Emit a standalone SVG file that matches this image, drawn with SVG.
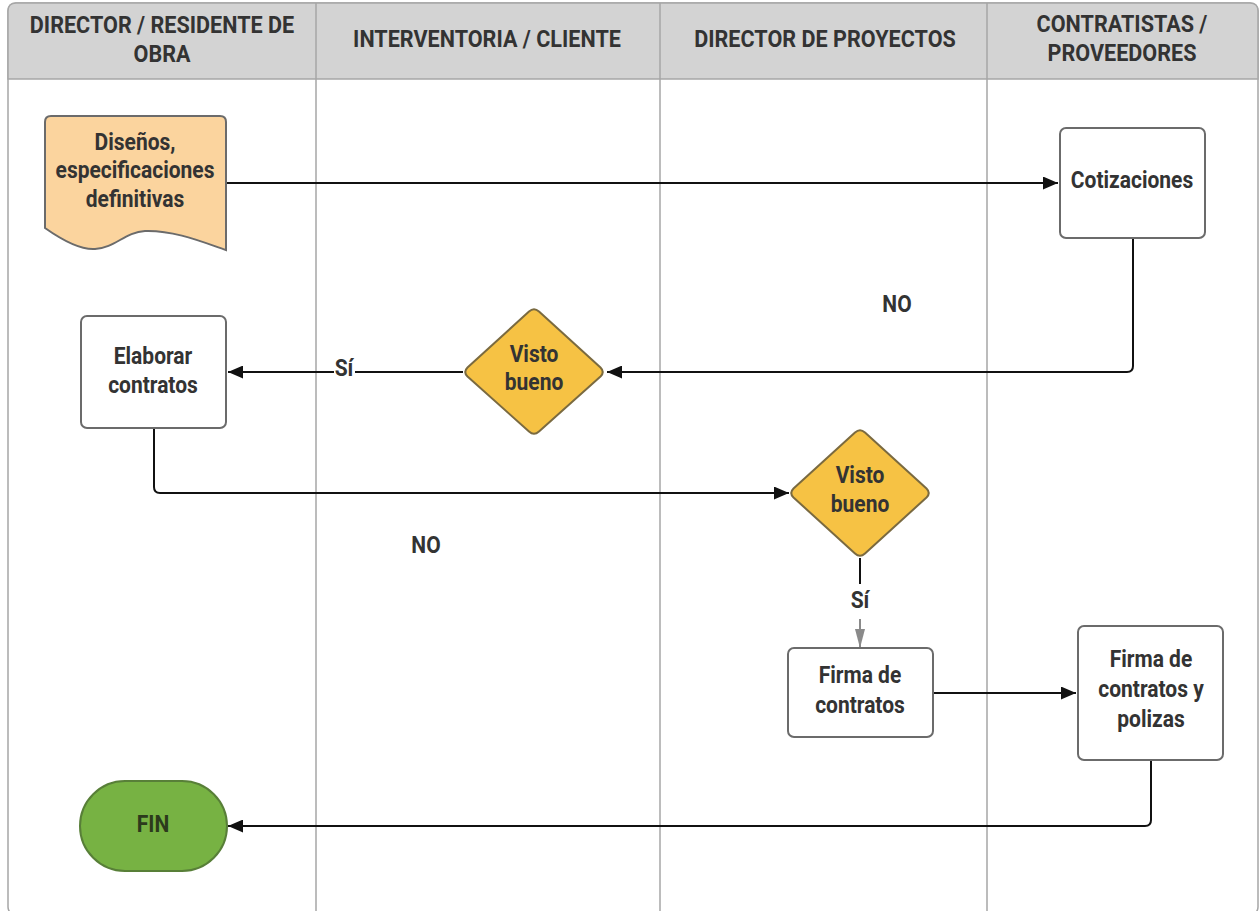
<svg xmlns="http://www.w3.org/2000/svg" width="1260" height="911" viewBox="0 0 1260 911">
  <defs>
    <style>
      .lane { fill: none; stroke: #a6a6a6; stroke-width: 1.5; }
      .hdr { fill: #d3d3d3; stroke: #a6a6a6; stroke-width: 1.5; }
      .box { fill: #ffffff; stroke: #6b6b6b; stroke-width: 2; }
      .doc { fill: #fbd49e; stroke: #6b6b6b; stroke-width: 2; }
      .dec { fill: #f6c244; stroke: #7a6a40; stroke-width: 2; stroke-linejoin: round; }
      .term { fill: #77b243; stroke: #587f38; stroke-width: 2; }
      .t { font-family: Roboto, "Liberation Sans", sans-serif; font-weight: bold; font-size: 21px; fill: #333333; text-anchor: middle; }
      .th { font-size: 21.6px; }
      .tf { fill: #2c3a1c; }
      .ln { fill: none; stroke: #111111; stroke-width: 2; stroke-linejoin: round; }
      .lg { fill: none; stroke: #8a8a8a; stroke-width: 2; }
    </style>
    <marker id="arr" markerUnits="userSpaceOnUse" markerWidth="15" markerHeight="13" refX="15" refY="6.5" orient="auto">
      <path d="M0,0 L15,6.5 L0,13 Z" fill="#111111"/>
    </marker>
    <marker id="arrg" markerUnits="userSpaceOnUse" markerWidth="19" markerHeight="10" refX="19" refY="5" orient="auto">
      <path d="M0,0 L19,5 L0,10 Z" fill="#8a8a8a"/>
    </marker>
  </defs>

  <!-- swimlane frame -->
  <g id="lanes">
    <rect x="8" y="3" width="1250" height="912" rx="8" fill="#ffffff" class="lane"/>
    <path class="hdr" d="M8,79 V11 Q8,3 16,3 H1250 Q1258,3 1258,11 V79 Z"/>
    <line class="lane" x1="316" y1="3" x2="316" y2="911"/>
    <line class="lane" x1="660" y1="3" x2="660" y2="911"/>
    <line class="lane" x1="987" y1="3" x2="987" y2="911"/>
    <text class="t th" transform="translate(162,33) scale(1,1.12)"><tspan x="0" y="0">DIRECTOR / RESIDENTE DE</tspan><tspan x="0" y="25.8">OBRA</tspan></text>
    <text class="t th" transform="translate(487,47) scale(1,1.12)">INTERVENTORIA / CLIENTE</text>
    <text class="t th" transform="translate(825,47) scale(1,1.12)">DIRECTOR DE PROYECTOS</text>
    <text class="t th" transform="translate(1122,32) scale(1,1.12)"><tspan x="0" y="0">CONTRATISTAS /</tspan><tspan x="0" y="25.8">PROVEEDORES</tspan></text>
  </g>

  <!-- connectors -->
  <g id="connectors">
    <line class="ln" x1="226" y1="183" x2="1058" y2="183" marker-end="url(#arr)"/>
    <path class="ln" d="M1133,238 V366 Q1133,372 1127,372 H607" marker-end="url(#arr)"/>
    <line class="ln" x1="463" y1="372" x2="355" y2="372"/>
    <line class="ln" x1="334" y1="372" x2="228" y2="372" marker-end="url(#arr)"/>
    <path class="ln" d="M154,428 V487 Q154,493 160,493 H789" marker-end="url(#arr)"/>
    <line class="ln" x1="860" y1="558" x2="860" y2="584"/>
    <line class="lg" x1="860" y1="619" x2="860" y2="648" marker-end="url(#arrg)"/>
    <line class="ln" x1="933" y1="693" x2="1076" y2="693" marker-end="url(#arr)"/>
    <path class="ln" d="M1151,760 V820 Q1151,826 1145,826 H228" marker-end="url(#arr)"/>
    <text class="t" transform="translate(344,376) scale(1,1.14)">Sí</text>
    <text class="t" transform="translate(860,608) scale(1,1.14)">Sí</text>
    <text class="t" transform="translate(897,312) scale(1,1.14)">NO</text>
    <text class="t" transform="translate(426,553) scale(1,1.14)">NO</text>
  </g>

  <g id="node-disenos">
    <path class="doc" d="M51,116 H220 Q226,116 226,122 V250 C205,243 175,230 145,231 C125,232 115,248 95,249 C80,250 62,240 45,228 V122 Q45,116 51,116 Z"/>
    <text class="t" transform="translate(135,150) scale(1,1.14)"><tspan x="0" y="0">Diseños,</tspan><tspan x="0" y="25">especificaciones</tspan><tspan x="0" y="50">definitivas</tspan></text>
  </g>

  <g id="node-cotizaciones">
    <rect class="box" x="1060" y="128" width="145" height="110" rx="6"/>
    <text class="t" transform="translate(1132,188) scale(1,1.14)">Cotizaciones</text>
  </g>

  <g id="node-visto-bueno-1">
    <path class="dec" d="M529,311.5 Q534,307 539,311.5 L600.5,367.5 Q605,372 600.5,376.5 L539,431.5 Q534,436 529,431.5 L467.5,376.5 Q463,372 467.5,367.5 Z"/>
    <text class="t" transform="translate(534,362) scale(1,1.14)"><tspan x="0" y="0">Visto</tspan><tspan x="0" y="24.6">bueno</tspan></text>
  </g>

  <g id="node-elaborar">
    <rect class="box" x="81" y="316" width="145" height="112" rx="6"/>
    <text class="t" transform="translate(153,364) scale(1,1.14)"><tspan x="0" y="0">Elaborar</tspan><tspan x="0" y="25.4">contratos</tspan></text>
  </g>

  <g id="node-visto-bueno-2">
    <path class="dec" d="M855,432.5 Q860,428 865,432.5 L926.5,488.5 Q931,493 926.5,497.5 L865,553.5 Q860,558 855,553.5 L793.5,497.5 Q789,493 793.5,488.5 Z"/>
    <text class="t" transform="translate(860,483) scale(1,1.14)"><tspan x="0" y="0">Visto</tspan><tspan x="0" y="25.4">bueno</tspan></text>
  </g>

  <g id="node-firma">
    <rect class="box" x="788" y="648" width="145" height="89" rx="6"/>
    <text class="t" transform="translate(860,683) scale(1,1.14)"><tspan x="0" y="0">Firma de</tspan><tspan x="0" y="26.3">contratos</tspan></text>
  </g>

  <g id="node-firma-polizas">
    <rect class="box" x="1078" y="626" width="145" height="134" rx="6"/>
    <text class="t" transform="translate(1151,667) scale(1,1.14)"><tspan x="0" y="0">Firma de</tspan><tspan x="0" y="26.3">contratos y</tspan><tspan x="0" y="52.6">polizas</tspan></text>
  </g>

  <g id="node-fin">
    <rect class="term" x="80" y="781" width="147" height="90" rx="45"/>
    <text class="t tf" transform="translate(153,832) scale(1,1.14)">FIN</text>
  </g>
</svg>
